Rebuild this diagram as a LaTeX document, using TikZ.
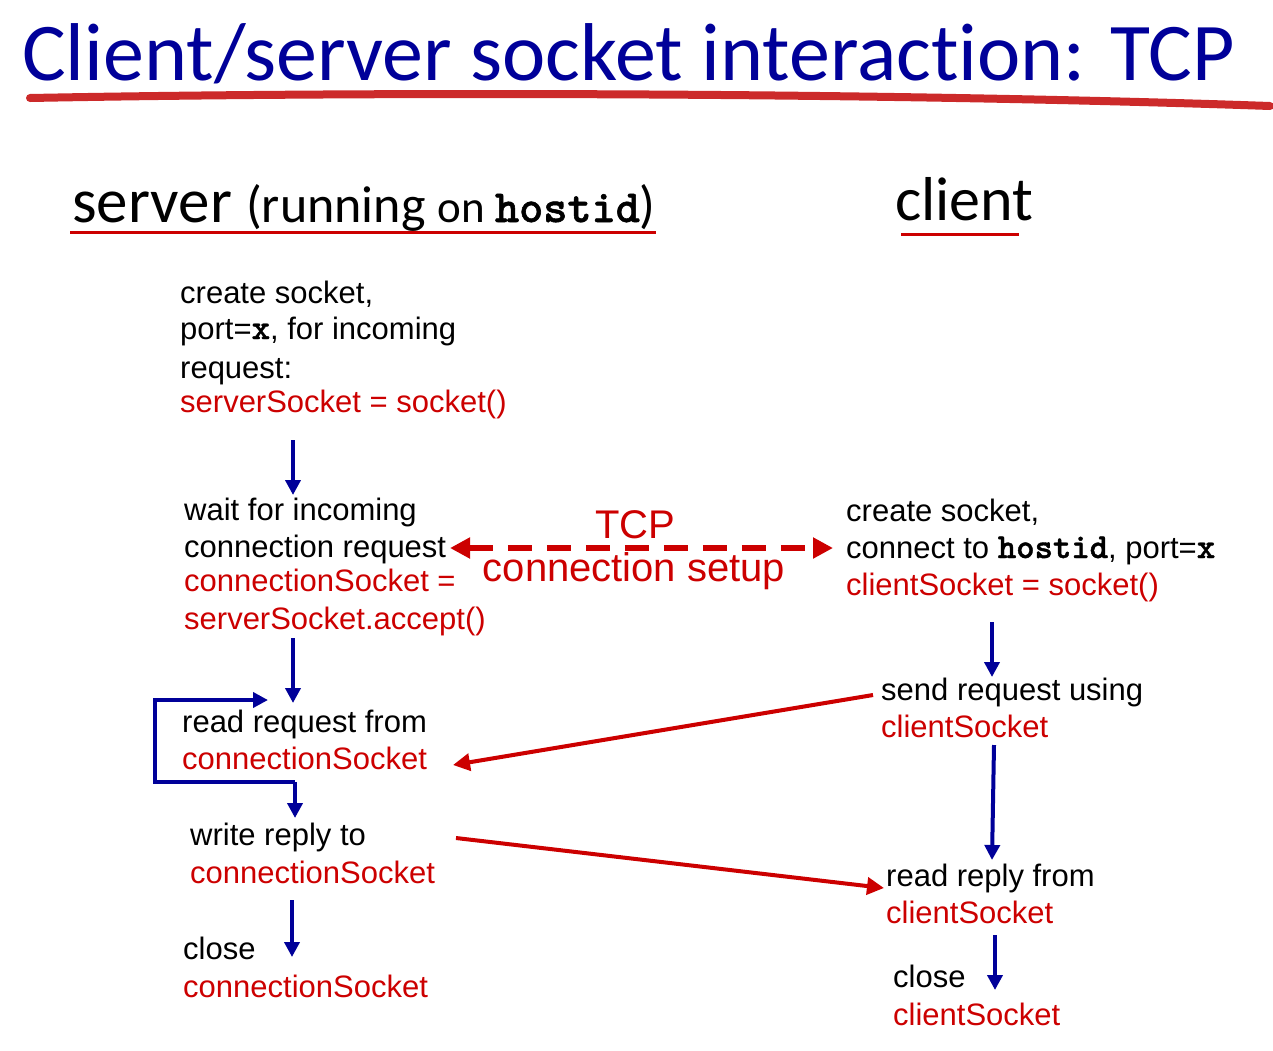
\documentclass[tikz,border=0pt]{standalone}
\usepackage{fontspec}
\setmainfont{Liberation Sans}
\newfontfamily\gill[Ligatures=NoCommon]{Carlito}
\newfontfamily\cour{lmmonolt10-bold}[Extension=.otf, FakeBold=1.2]
\usetikzlibrary{arrows.meta}
\definecolor{myblue}{RGB}{0,0,153}
\definecolor{myred}{RGB}{204,0,0}
\definecolor{brushred}{RGB}{204,42,42}
\newcommand{\cb}[1]{{\cour\fontsize{35}{36}\selectfont #1}}
\begin{document}
\begin{tikzpicture}[x=1pt,y=-1pt,
  ln/.style={anchor=base west, inner sep=0pt, font=\fontsize{31}{36}\selectfont},
  rl/.style={ln, text=myred},
  big/.style={anchor=base, inner sep=0pt, text=myred, font=\fontsize{40}{44}\selectfont},
  flow/.style={draw=myblue, line width=4pt, -{Triangle[length=15pt,width=15pt]}},
  msg/.style={draw=myred, line width=4pt, -{Triangle[length=17pt,width=17pt]}},
  tcpline/.style={draw=myred, line width=5.5pt, dash pattern=on 24pt off 15pt,
    {Triangle[length=20pt,width=20pt]}-{Triangle[length=20pt,width=20pt]}},
  uline/.style={draw=myred, line width=3pt}
]
\useasboundingbox (0,0) rectangle (1273,1050);

% title
\node[anchor=base west, inner sep=0pt, text=myblue, font=\gill\fontsize{82}{82}\selectfont] (title) at (22,80) {Client/server socket interaction: TCP};
\draw[draw=brushred, line width=8pt, line cap=round] (30,98) .. controls (400,91) and (900,93) .. (1270,106);

% headers
\node[anchor=base west, inner sep=0pt, font=\gill] (srvhdr) at (72,222)
  {\fontsize{63}{63}\selectfont server \fontsize{52}{52}\selectfont(running \fontsize{45}{45}\selectfont on {\cour\fontsize{46}{46}\selectfont hostid}\fontsize{52}{52}\selectfont)};
\draw[uline] (70,232) -- (656,232);
\node[anchor=base west, inner sep=0pt, font=\gill\fontsize{62}{62}\selectfont] (clihdr) at (895,220) {client};
\draw[uline] (901,234) -- (1019,234);

% server side
\node[ln] (s1a) at (180,303) {create socket,};
\node[ln] (s1b) at (180,339) {port=\cb{x}, for incoming};
\node[ln] (s1c) at (180,378) {request:};
\node[rl] (s1d) at (180,412) {serverSocket = socket()};

\node[ln] (s2a) at (184,520) {wait for incoming};
\node[ln] (s2b) at (184,557) {connection request};
\node[rl] (s2c) at (184,591) {connectionSocket =};
\node[rl] (s2d) at (184,629) {serverSocket.accept()};

\node[ln] (s3a) at (182,732) {read request from};
\node[rl] (s3b) at (182,769) {connectionSocket};
\node[ln] (s4a) at (190,845) {write reply to};
\node[rl] (s4b) at (190,883) {connectionSocket};
\node[ln] (s5a) at (183,959) {close};
\node[rl] (s5b) at (183,997) {connectionSocket};

% TCP label
\node[big] (tcp1) at (635,538) {TCP};
\node[big] (tcp2) at (634,581) {connection setup};

% client side
\node[ln] (c1a) at (846,521) {create socket,};
\node[ln] (c1b) at (846,558) {connect to \cb{hostid}, port=\cb{x}};
\node[rl] (c1c) at (846,595) {clientSocket = socket()};
\node[ln] (c2a) at (881,700) {send request using};
\node[rl] (c2b) at (881,737) {clientSocket};
\node[ln] (c3a) at (886,886) {read reply from};
\node[rl] (c3b) at (886,923) {clientSocket};
\node[ln] (c4a) at (893,987) {close};
\node[rl] (c4b) at (893,1025) {clientSocket};

% connector end points
\coordinate (a1s) at (293,440); \coordinate (a1e) at (293,495);
\coordinate (a2s) at (293,638); \coordinate (a2e) at (293,703);
\coordinate (lpj) at (295,782); \coordinate (lpbl) at (155,782);
\coordinate (lptl) at (155,700); \coordinate (lpe) at (268,700);
\coordinate (a3e) at (295,818);
\coordinate (a4s) at (292,900); \coordinate (a4e) at (292,957);
\coordinate (b1s) at (992,622); \coordinate (b1e) at (992,677);
\coordinate (b2s) at (994,745); \coordinate (b2e) at (992,860);
\coordinate (b3s) at (995,935); \coordinate (b3e) at (995,990);
\coordinate (tcpl) at (450,548); \coordinate (tcpr) at (833,548);
\coordinate (reqs) at (873,695); \coordinate (reqe) at (453,765);
\coordinate (reps) at (456,838); \coordinate (repe) at (884,888);

% blue flow arrows
\draw[flow] (a1s) -- (a1e);
\draw[flow] (a2s) -- (a2e);
\draw[flow, line join=miter] (lpj) -- (lpbl) -- (lptl) -- (lpe);
\draw[flow] (lpj) -- (a3e);
\draw[flow] (a4s) -- (a4e);
\draw[flow] (b1s) -- (b1e);
\draw[flow] (b2s) -- (b2e);
\draw[flow] (b3s) -- (b3e);

% red messages
\draw[tcpline] (tcpl) -- (tcpr);
\draw[msg] (reqs) -- (reqe);
\draw[msg] (reps) -- (repe);
\end{tikzpicture}
\end{document}
